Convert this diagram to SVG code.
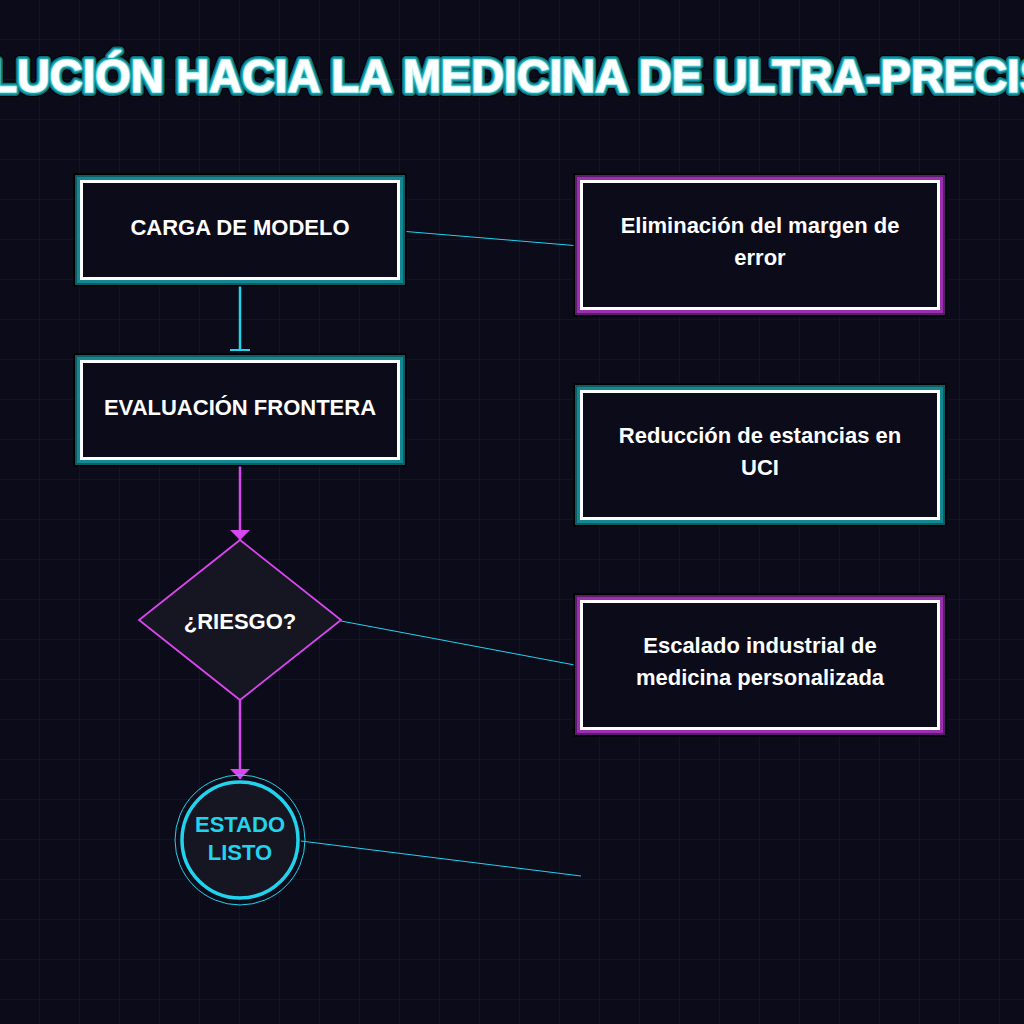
<svg xmlns="http://www.w3.org/2000/svg" width="1024" height="1024" viewBox="0 0 1024 1024">
<defs>
<pattern id="grid" width="40" height="40" patternUnits="userSpaceOnUse">
<path d="M40 0V40M0 40H40" fill="none" stroke="#1b1a2f" stroke-width="1"/>
</pattern>
<marker id="arrowM" viewBox="0 0 10 20" refX="10" refY="10" markerWidth="10" markerHeight="20" markerUnits="userSpaceOnUse" orient="auto">
<path d="M0 0L10 10L0 20Z" fill="#d946ef"/>
</marker>
<marker id="teeC" viewBox="0 0 2 20" refX="2" refY="10" markerWidth="2" markerHeight="20" markerUnits="userSpaceOnUse" orient="auto">
<rect x="0" y="0" width="2" height="20" fill="#22d3ee"/>
</marker>
</defs>
<style>
.lbl{font-family:"Liberation Sans",Arial,sans-serif;font-weight:bold;font-size:22px;fill:#ffffff;text-anchor:middle}
.cyanlbl{fill:#22d3ee}
.box{fill:#0b0b1a;stroke:#ffffff;stroke-width:3}
.gT1{fill:none;stroke:#000000;stroke-width:16}
.gT2{fill:none;stroke:#0d5c64;stroke-width:13}
.gT3{fill:none;stroke:#138792;stroke-width:9}
.gP2{fill:none;stroke:#5b1d6b;stroke-width:13}
.gP3{fill:none;stroke:#9a2fb0;stroke-width:9}
.edge{fill:none}
.title{font-family:"Liberation Sans",Arial,sans-serif;font-weight:bold;font-size:45.5px;text-anchor:middle}
</style>
<rect x="0" y="0" width="1024" height="1024" fill="#0b0b1a"/>
<rect x="0" y="0" width="1024" height="1024" fill="url(#grid)"/>

<g id="title">
<text class="title" x="512" y="92" fill="none" stroke="#000000" stroke-width="10" stroke-linejoin="round">EVOLUCIÓN HACIA LA MEDICINA DE ULTRA-PRECISIÓN</text>
<text class="title" x="512" y="92" fill="none" stroke="#0e6f78" stroke-width="8" stroke-linejoin="round">EVOLUCIÓN HACIA LA MEDICINA DE ULTRA-PRECISIÓN</text>
<text class="title" x="512" y="92" fill="none" stroke="#1aa3ae" stroke-width="5" stroke-linejoin="round">EVOLUCIÓN HACIA LA MEDICINA DE ULTRA-PRECISIÓN</text>
<text class="title" x="512" y="92" fill="none" stroke="#a9f1f6" stroke-width="2" stroke-linejoin="round">EVOLUCIÓN HACIA LA MEDICINA DE ULTRA-PRECISIÓN</text>
<text class="title" x="512" y="92" fill="#ffffff">EVOLUCIÓN HACIA LA MEDICINA DE ULTRA-PRECISIÓN</text>
</g>

<g id="connectors">
<line class="edge" x1="240" y1="281" x2="240" y2="351" stroke="#22d3ee" stroke-width="2.5" marker-end="url(#teeC)"/>
<line class="edge" x1="240" y1="461" x2="240" y2="540" stroke="#d946ef" stroke-width="2.5" marker-end="url(#arrowM)"/>
<line class="edge" x1="240" y1="700" x2="240" y2="779" stroke="#d946ef" stroke-width="2.5" marker-end="url(#arrowM)"/>
<line class="edge" x1="400" y1="231" x2="580" y2="246" stroke="#22d3ee" stroke-width="1"/>
<line class="edge" x1="341" y1="621" x2="580" y2="666" stroke="#22d3ee" stroke-width="1"/>
<line class="edge" x1="301" y1="841" x2="581" y2="876" stroke="#22d3ee" stroke-width="1"/>
</g>

<g id="node-carga">
<rect class="gT1" x="81.5" y="181.5" width="317" height="97"/>
<rect class="gT2" x="81.5" y="181.5" width="317" height="97"/>
<rect class="gT3" x="81.5" y="181.5" width="317" height="97"/>
<rect class="box" x="81.5" y="181.5" width="317" height="97"/>
<text class="lbl" x="240" y="235">CARGA DE MODELO</text>
</g>

<g id="node-evaluacion">
<rect class="gT1" x="81.5" y="361.5" width="317" height="97"/>
<rect class="gT2" x="81.5" y="361.5" width="317" height="97"/>
<rect class="gT3" x="81.5" y="361.5" width="317" height="97"/>
<rect class="box" x="81.5" y="361.5" width="317" height="97"/>
<text class="lbl" x="240" y="415">EVALUACIÓN FRONTERA</text>
</g>

<g id="node-riesgo">
<path d="M240 540L341 620L240 700L139 620Z" fill="#161622" stroke="#d946ef" stroke-width="1.8"/>
<text class="lbl" x="240" y="629">¿RIESGO?</text>
</g>

<g id="node-estado">
<circle cx="240" cy="840" r="65" fill="none" stroke="#22d3ee" stroke-width="1"/>
<circle cx="240" cy="840" r="58" fill="#161622" stroke="#22d3ee" stroke-width="3.5"/>
<text class="lbl cyanlbl" x="240" y="832">ESTADO</text>
<text class="lbl cyanlbl" x="240" y="860">LISTO</text>
</g>

<g id="node-eliminacion">
<rect class="gT1" x="581.5" y="181.5" width="357" height="127"/>
<rect class="gP2" x="581.5" y="181.5" width="357" height="127"/>
<rect class="gP3" x="581.5" y="181.5" width="357" height="127"/>
<rect class="box" x="581.5" y="181.5" width="357" height="127"/>
<text class="lbl" x="760" y="233">Eliminación del margen de</text>
<text class="lbl" x="760" y="265">error</text>
</g>

<g id="node-reduccion">
<rect class="gT1" x="581.5" y="391.5" width="357" height="127"/>
<rect class="gT2" x="581.5" y="391.5" width="357" height="127"/>
<rect class="gT3" x="581.5" y="391.5" width="357" height="127"/>
<rect class="box" x="581.5" y="391.5" width="357" height="127"/>
<text class="lbl" x="760" y="443">Reducción de estancias en</text>
<text class="lbl" x="760" y="475">UCI</text>
</g>

<g id="node-escalado">
<rect class="gT1" x="581.5" y="601.5" width="357" height="127"/>
<rect class="gP2" x="581.5" y="601.5" width="357" height="127"/>
<rect class="gP3" x="581.5" y="601.5" width="357" height="127"/>
<rect class="box" x="581.5" y="601.5" width="357" height="127"/>
<text class="lbl" x="760" y="653">Escalado industrial de</text>
<text class="lbl" x="760" y="685">medicina personalizada</text>
</g>
</svg>
